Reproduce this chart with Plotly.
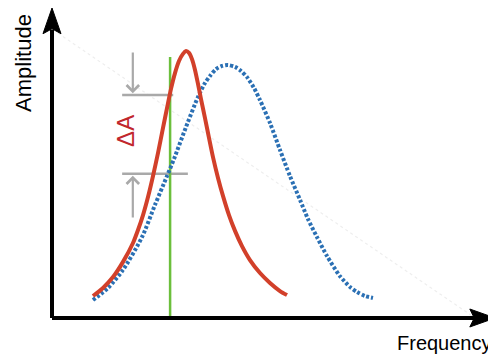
import plotly.graph_objects as go

# ---- data (frequency in arbitrary units 0-100, amplitude 0-1) ----
freq_red = [9.23, 11.49, 13.74, 15.99, 18.24, 19.37, 20.50, 21.62, 22.75, 23.87, 25.00,
            25.90, 26.80, 27.70, 28.60, 29.50, 30.18, 30.86, 31.53, 32.21, 32.88, 33.56,
            34.46, 35.36, 36.26, 37.39, 38.51, 39.86, 41.22, 42.79, 44.59, 46.85, 49.10,
            51.35, 52.93]
amp_red = [0.071, 0.097, 0.132, 0.181, 0.242, 0.284, 0.332, 0.390, 0.458, 0.532, 0.613,
           0.677, 0.739, 0.790, 0.829, 0.852, 0.861, 0.855, 0.835, 0.800, 0.755, 0.706,
           0.645, 0.581, 0.519, 0.452, 0.394, 0.332, 0.281, 0.232, 0.187, 0.145, 0.113,
           0.087, 0.074]

freq_blue = [9.23, 12.61, 15.99, 20.27, 23.20, 25.90, 27.48, 30.18, 32.88, 34.46, 35.59,
             36.94, 38.29, 39.64, 41.22, 42.57, 43.92, 45.50, 46.85, 49.10, 51.35, 53.60,
             55.86, 57.66, 59.68, 61.94, 64.86, 67.12, 68.69, 70.50, 72.30]
amp_blue = [0.058, 0.097, 0.155, 0.261, 0.365, 0.458, 0.513, 0.616, 0.713, 0.758, 0.781,
            0.803, 0.813, 0.816, 0.810, 0.797, 0.777, 0.742, 0.703, 0.629, 0.542, 0.458,
            0.381, 0.319, 0.261, 0.200, 0.135, 0.100, 0.084, 0.071, 0.065]

probe_freq = 26.6
probe_top = 0.842
level_high = 0.719
level_low = 0.465
level_line_start = 15.8
level_high_end = 27.3
level_low_end = 30.6
arrow_freq = 18.2
arrow_high_tail = 0.861
arrow_low_tail = 0.319
delta_label = "ΔA"
delta_label_pos = (16.4, 0.603)
guide_x = [1.35, 95.3]
guide_y = [0.919, 0.0]

RED = "#d2402a"
BLUE = "#2b70b4"
GREEN = "#6cbf3c"
GRAY = "#a9a9a9"

fig = go.Figure()

# faint diagonal guide
fig.add_trace(go.Scatter(x=guide_x, y=guide_y, mode="lines",
                         line=dict(color="#eeeeee", width=1.2, dash="dot"),
                         hoverinfo="skip", showlegend=False))

# reference levels (gray)
fig.add_trace(go.Scatter(x=[level_line_start, level_high_end], y=[level_high, level_high],
                         mode="lines", line=dict(color=GRAY, width=2.5),
                         hoverinfo="skip", showlegend=False))
fig.add_trace(go.Scatter(x=[level_line_start, level_low_end], y=[level_low, level_low],
                         mode="lines", line=dict(color=GRAY, width=2.5),
                         hoverinfo="skip", showlegend=False))

# green probe line
fig.add_trace(go.Scatter(x=[probe_freq, probe_freq], y=[0, probe_top], mode="lines",
                         line=dict(color=GREEN, width=2.5),
                         hoverinfo="skip", showlegend=False))

# curves
fig.add_trace(go.Scatter(x=freq_blue, y=amp_blue, mode="lines",
                         line=dict(color=BLUE, width=4, dash="3px,2px", shape="spline", smoothing=0.7),
                         showlegend=False))
fig.add_trace(go.Scatter(x=freq_red, y=amp_red, mode="lines",
                         line=dict(color=RED, width=4, shape="spline", smoothing=0.7),
                         showlegend=False))

annotations = [
    dict(x=arrow_freq, y=level_high + 0.006, ax=arrow_freq, ay=arrow_high_tail,
         xref="x", yref="y", axref="x", ayref="y", showarrow=True, text="",
         arrowhead=4, arrowsize=1.1, arrowwidth=2.2, arrowcolor=GRAY),
    dict(x=arrow_freq, y=level_low - 0.006, ax=arrow_freq, ay=arrow_low_tail,
         xref="x", yref="y", axref="x", ayref="y", showarrow=True, text="",
         arrowhead=4, arrowsize=1.1, arrowwidth=2.2, arrowcolor=GRAY),
    dict(x=delta_label_pos[0], y=delta_label_pos[1], xref="x", yref="y", text=delta_label,
         showarrow=False, textangle=-90,
         font=dict(family="Liberation Sans, Arial", size=24, color="#c1272d")),
    dict(x=-0.063, y=0.823, xref="paper", yref="paper", text="Amplitude", showarrow=False,
         textangle=-90, xanchor="center", yanchor="middle",
         font=dict(family="Liberation Sans, Arial", size=22, color="#000000")),
    dict(x=0.772, y=-0.081, xref="paper", yref="paper", text="Frequency", showarrow=False,
         xanchor="left", yanchor="middle",
         font=dict(family="Liberation Sans, Arial", size=20, color="#000000")),
]

shapes = [
    # axes lines
    dict(type="line", xref="paper", yref="paper", x0=0, y0=0, x1=0, y1=0.93,
         line=dict(color="black", width=4)),
    dict(type="line", xref="paper", yref="paper", x0=0, y0=0, x1=0.955, y1=0,
         line=dict(color="black", width=4)),
    # arrowheads
    dict(type="path", xref="paper", yref="paper",
         path="M -0.0203,0.917 L 0,1.0 L 0.0203,0.917 L 0,0.933 Z",
         fillcolor="black", line=dict(color="black", width=1)),
    dict(type="path", xref="paper", yref="paper",
         path="M 0.941,-0.029 L 0.998,0 L 0.941,0.029 L 0.951,0 Z",
         fillcolor="black", line=dict(color="black", width=1)),
]

# the page body adds an 8px offset, so the figure is sized to fit the visible window
fig.update_layout(
    width=488, height=346,
    margin=dict(l=44, r=0, t=0, b=36),
    paper_bgcolor="white", plot_bgcolor="white",
    xaxis=dict(range=[0, 100], visible=False, fixedrange=True),
    yaxis=dict(range=[0, 1], visible=False, fixedrange=True),
    annotations=annotations, shapes=shapes,
    showlegend=False,
)

fig.write_html("out.html")
